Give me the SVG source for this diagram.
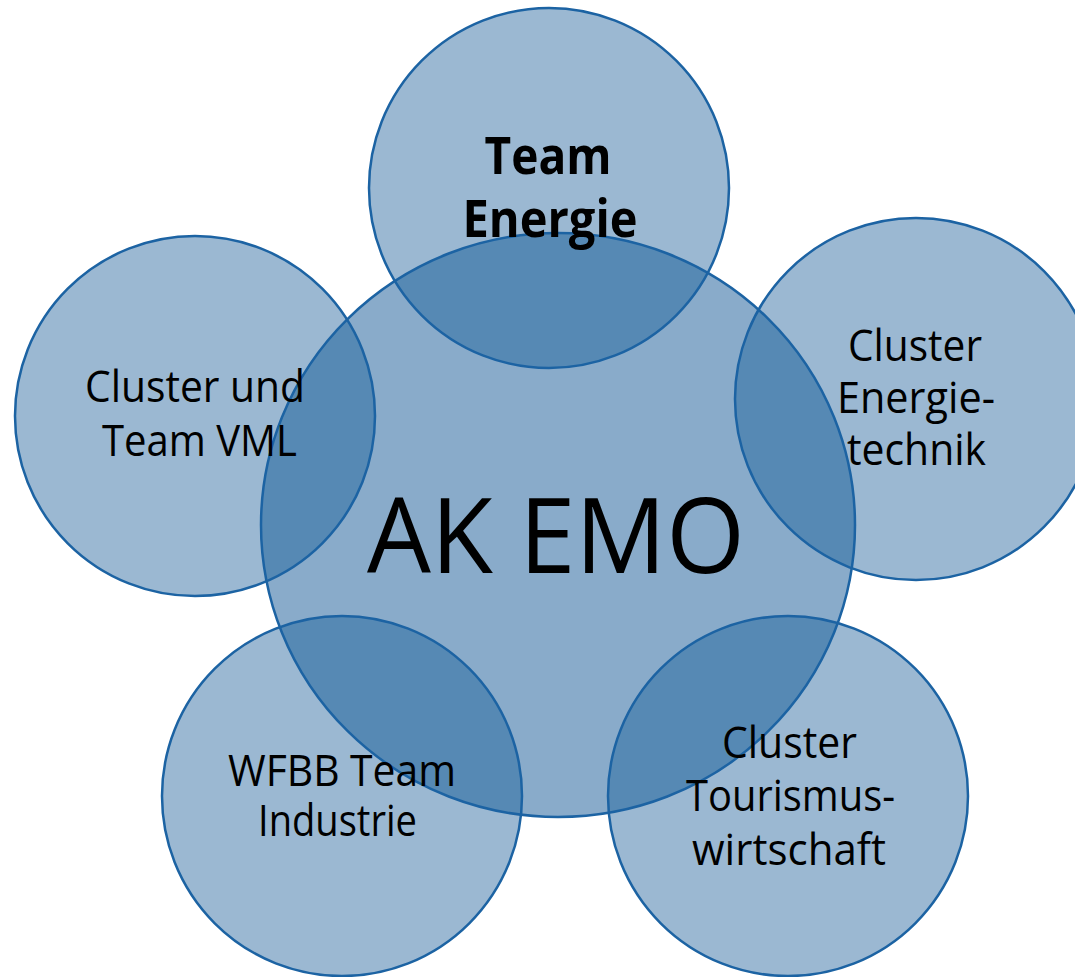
<svg xmlns="http://www.w3.org/2000/svg" width="1075" height="977" viewBox="0 0 1075 977">
<style>
.small{fill:#9bb8d2}
.big{fill:#89abca}
.ov{fill:#5689b4}
.ol{fill:none;stroke:#1c63a3;stroke-width:2.5}
.t{font-family:"Open Sans","Noto Sans",sans-serif;font-size:44px;fill:#000;text-anchor:middle}
.tb{font-family:"Open Sans","Noto Sans",sans-serif;font-size:52px;font-weight:bold;fill:#000;text-anchor:middle}
.tl{font-family:"Open Sans","Noto Sans",sans-serif;font-size:105px;fill:#000;text-anchor:middle}
</style>
<defs>
<clipPath id="bigclip"><ellipse cx="558" cy="525" rx="297" ry="292"/></clipPath>
</defs>
<rect width="1075" height="977" fill="#fff"/>
<g id="fills">
<circle class="small" cx="549" cy="188" r="180"/>
<circle class="small" cx="195" cy="416" r="180"/>
<circle class="small" cx="916" cy="399" r="181"/>
<circle class="small" cx="342" cy="796" r="180"/>
<circle class="small" cx="788" cy="796" r="180"/>
<ellipse class="big" cx="558" cy="525" rx="297" ry="292"/>
<g clip-path="url(#bigclip)">
<circle class="ov" cx="549" cy="188" r="180"/>
<circle class="ov" cx="195" cy="416" r="180"/>
<circle class="ov" cx="916" cy="399" r="181"/>
<circle class="ov" cx="342" cy="796" r="180"/>
<circle class="ov" cx="788" cy="796" r="180"/>
</g>
</g>
<g id="connectors"></g>
<g id="node-ak-emo">
<ellipse class="ol" cx="558" cy="525" rx="297" ry="292"/>
<text class="tl" x="556" y="573" textLength="378" lengthAdjust="spacingAndGlyphs">AK EMO</text>
</g>
<g id="node-team-energie">
<circle class="ol" cx="549" cy="188" r="180"/>
<text class="tb" x="548" y="174" textLength="127" lengthAdjust="spacingAndGlyphs">Team</text>
<text class="tb" x="550" y="237" textLength="175" lengthAdjust="spacingAndGlyphs">Energie</text>
</g>
<g id="node-vml">
<circle class="ol" cx="195" cy="416" r="180"/>
<text class="t" x="195" y="402" textLength="220" lengthAdjust="spacingAndGlyphs">Cluster und</text>
<text class="t" x="199.5" y="456" textLength="195" lengthAdjust="spacingAndGlyphs">Team VML</text>
</g>
<g id="node-energietechnik">
<circle class="ol" cx="916" cy="399" r="181"/>
<text class="t" x="915" y="361" textLength="134" lengthAdjust="spacingAndGlyphs">Cluster</text>
<text class="t" x="916" y="413" textLength="158" lengthAdjust="spacingAndGlyphs">Energie-</text>
<text class="t" x="916.5" y="465" textLength="139" lengthAdjust="spacingAndGlyphs">technik</text>
</g>
<g id="node-industrie">
<circle class="ol" cx="342" cy="796" r="180"/>
<text class="t" x="342" y="786" textLength="228" lengthAdjust="spacingAndGlyphs">WFBB Team</text>
<text class="t" x="337.5" y="836" textLength="159" lengthAdjust="spacingAndGlyphs">Industrie</text>
</g>
<g id="node-tourismus">
<circle class="ol" cx="788" cy="796" r="180"/>
<text class="t" x="789.5" y="758" textLength="135" lengthAdjust="spacingAndGlyphs">Cluster</text>
<text class="t" x="790.5" y="811" textLength="209" lengthAdjust="spacingAndGlyphs">Tourismus-</text>
<text class="t" x="789" y="865" textLength="194" lengthAdjust="spacingAndGlyphs">wirtschaft</text>
</g>
</svg>
